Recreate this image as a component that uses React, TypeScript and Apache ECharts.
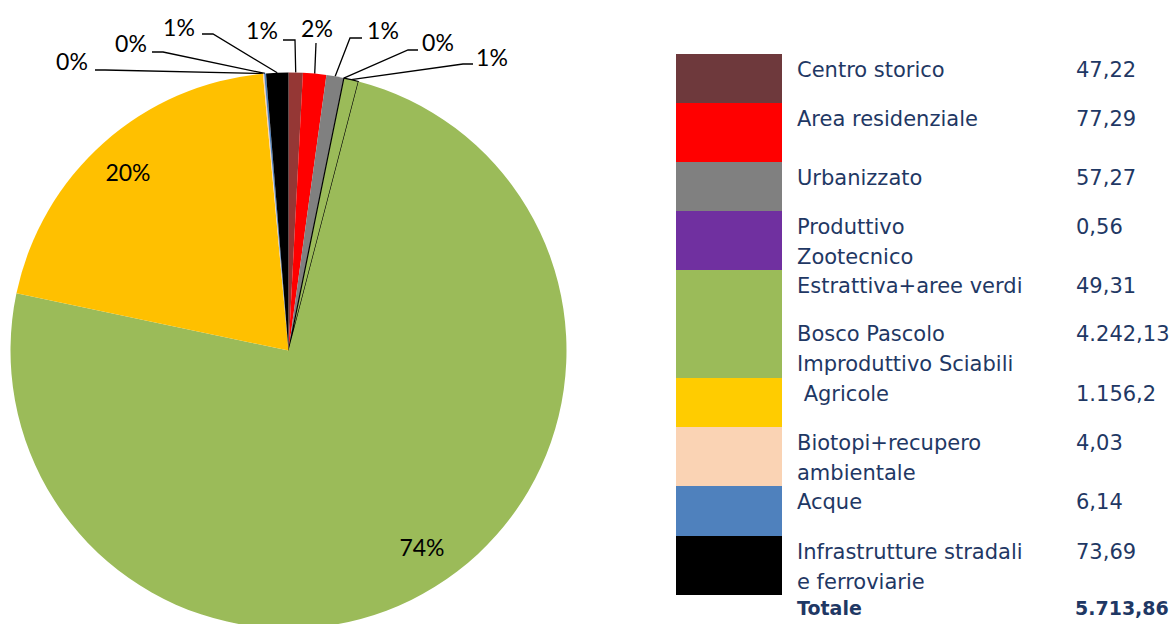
import React, { useEffect, useRef } from "react";
import * as echarts from "echarts";

// ---- data ----
const categories = [
  "Centro storico",
  "Area residenziale",
  "Urbanizzato",
  "Produttivo Zootecnico",
  "Estrattiva+aree verdi",
  "Bosco Pascolo Improduttivo Sciabili",
  "Agricole",
  "Biotopi+recupero ambientale",
  "Acque",
  "Infrastrutture stradali e ferroviarie",
];
const values = [47.22, 77.29, 57.27, 0.56, 49.31, 4242.13, 1156.2, 4.03, 6.14, 73.69];
const pctLabels = ["1%", "2%", "1%", "0%", "1%", "74%", "20%", "0%", "0%", "1%"];
const legendTexts = [
  "Centro storico",
  "Area residenziale",
  "Urbanizzato",
  "Produttivo\nZootecnico",
  "Estrattiva+aree verdi",
  "Bosco Pascolo\nImproduttivo Sciabili",
  " Agricole",
  "Biotopi+recupero\nambientale",
  "Acque",
  "Infrastrutture stradali\ne ferroviarie",
];
const valueTexts = ["47,22", "77,29", "57,27", "0,56", "49,31", "4.242,13", "1.156,2", "4,03", "6,14", "73,69"];
const totalLabel = "Totale";
const totalValue = "5.713,86";

// ---- styles ----
const sliceColors = ["#953735", "#FF0000", "#808080", "#7030A0", "#9BBB59", "#9BBB59", "#FFC000", "#FAD3B4", "#4F81BD", "#000000"];
const swatchColors = ["#6E393C", "#FF0000", "#808080", "#7030A0", "#9BBB59", "#9BBB59", "#FFCC00", "#FAD3B4", "#4F81BD", "#000000"];
const outlined = [false, false, false, false, true, false, false, false, false, false];

// ---- layout ----
const CX = 288.5;
const CY = 350.5;
const R = 278;
const labelPos: number[][] = [
  [262, 30], [317, 28], [383, 30], [438, 42], [492, 57],
  [422, 547], [128, 172],
  [72, 61], [131, 43], [179, 27],
];
const guides: (number[][] | null)[] = [
  [[295, 40], [283, 40]],
  [[316, 43], [316, 43]],
  [[350, 38], [362, 38]],
  [[408, 50], [418, 50]],
  [[463, 64], [473, 64]],
  null,
  null,
  [[105, 70], [95, 70]],
  [[163, 52], [152, 52]],
  [[213, 34], [202, 34]],
];
const rowTops = [54, 103, 162, 211, 270, 318, 378, 427, 486, 536];
const rowBottom = 595;
const swatchX = 676;
const swatchW = 106;
const textX = 797;
const valueX = 1076;
const textColor = "#1F3864";
const legendFont = "21px 'DejaVu Sans'";
const totalFont = "bold 19px 'DejaVu Sans'";

export default function App() {
  const ref = useRef<HTMLDivElement>(null);

  useEffect(() => {
    const chart = echarts.init(ref.current!, null, { renderer: "svg" });
    const total = values.reduce((a, b) => a + b, 0);
    const cumBefore: number[] = [];
    let acc = 0;
    values.forEach((v) => {
      cumBefore.push(acc);
      acc += v;
    });
    const edge = (i: number) => {
      const th = ((cumBefore[i] + values[i] / 2) / total) * 2 * Math.PI;
      return [CX + R * Math.sin(th), CY - R * Math.cos(th)];
    };

    const graphics: any[] = [];
    rowTops.forEach((top, i) => {
      const bottom = i < rowTops.length - 1 ? rowTops[i + 1] : rowBottom;
      graphics.push({
        type: "rect",
        shape: { x: swatchX, y: top, width: swatchW, height: bottom - top },
        style: { fill: swatchColors[i] },
        silent: true,
      });
      graphics.push({
        type: "text",
        x: textX,
        y: top + 1,
        style: { text: legendTexts[i], fill: textColor, font: legendFont, lineHeight: 30, verticalAlign: "top" },
        silent: true,
      });
      graphics.push({
        type: "text",
        x: valueX,
        y: top + 1,
        style: { text: valueTexts[i], fill: textColor, font: legendFont, lineHeight: 30, verticalAlign: "top" },
        silent: true,
      });
    });
    graphics.push({
      type: "text",
      x: textX,
      y: rowBottom - 2,
      style: { text: totalLabel, fill: textColor, font: totalFont, lineHeight: 30, verticalAlign: "top" },
      silent: true,
    });
    graphics.push({
      type: "text",
      x: valueX - 1,
      y: rowBottom - 2,
      style: { text: totalValue, fill: textColor, font: totalFont, lineHeight: 30, verticalAlign: "top" },
      silent: true,
    });

    const option: any = {
      animation: false,
      backgroundColor: "#ffffff",
      graphic: graphics,
      series: [
        {
          type: "pie",
          center: [CX, CY],
          radius: R,
          startAngle: 90,
          clockwise: true,
          avoidLabelOverlap: false,
          silent: true,
          emphasis: { disabled: true },
          label: {
            show: true,
            position: "outside",
            fontFamily: "Lato",
            fontSize: 23,
            color: "#000000",
          },
          labelLine: { show: true, lineStyle: { color: "#000000", width: 1.3 } },
          labelLayout: (params: any) => {
            const i = params.dataIndex;
            const res: any = { x: labelPos[i][0], y: labelPos[i][1], align: "center", verticalAlign: "middle" };
            const g = guides[i];
            if (g) res.labelLinePoints = [edge(i), g[0], g[1]];
            return res;
          },
          data: categories.map((name, i) => ({
            name,
            value: values[i],
            itemStyle: {
              color: sliceColors[i],
              borderColor: "#000000",
              borderWidth: outlined[i] ? 1.2 : 0,
            },
            label: { formatter: pctLabels[i] },
            labelLine: { show: guides[i] !== null },
          })),
        },
      ],
    };
    chart.setOption(option);
    return () => chart.dispose();
  }, []);

  return <div ref={ref} style={{ position: "fixed", left: 0, top: 0, width: 1173, height: 624 }} />;
}
